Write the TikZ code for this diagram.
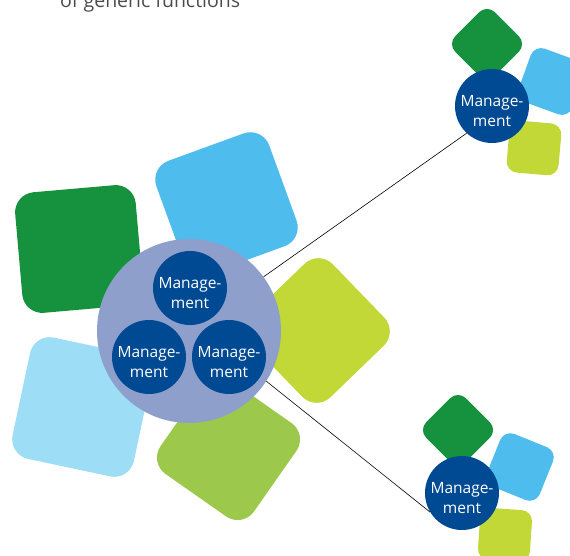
\documentclass[tikz,border=0pt]{standalone}
\usepackage{fontspec}
\setmainfont{Open Sans}
\definecolor{darkgreen}{HTML}{16923E}
\definecolor{skyblue}{HTML}{4EBDED}
\definecolor{paleblue}{HTML}{9DDDF6}
\definecolor{limegreen}{HTML}{C2D836}
\definecolor{olivegreen}{HTML}{9CC94B}
\definecolor{lavender}{HTML}{8F9FCB}
\definecolor{navy}{HTML}{004A93}
\tikzset{
  petal/.style={rectangle, rounded corners=20pt, inner sep=0pt, minimum size=#1},
  leaf/.style={rectangle, rounded corners=11pt, inner sep=0pt, minimum size=#1},
  mglabel/.style={inner sep=0pt, text=white, align=center, yshift=-5pt,
    font=\fontsize{15.5}{20}\selectfont},
  mgmt/.style={circle, fill=navy, inner sep=0pt, minimum size=74pt,
    label={[mglabel]center:#1}},
}
\begin{document}
\begin{tikzpicture}[x=1pt,y=-1pt]
    \useasboundingbox (0,0) rectangle (570,556);

    % Caption cut off at the top
    \node[anchor=base west, inner sep=0pt, text=black!70, font=\fontsize{19.5}{23}\selectfont] (caption) at (60,7.5) {of generic functions};

    % Petals of the main flower
    \node[petal=121pt, fill=darkgreen, rotate=5] (pDG) at (79,249) {};
    \node[petal=120pt, fill=skyblue, rotate=20] (pSB) at (226.5,203.5) {};
    \node[petal=114pt, fill=limegreen, rotate=44] (pLG) at (317.5,330.5) {};
    \node[petal=114pt, fill=olivegreen, rotate=-35] (pOG) at (228.5,448.5) {};
    \node[petal=124pt, fill=paleblue, rotate=-12] (pPB) at (82,407) {};

    % Main circle with three management units
    \node[circle, fill=lavender, inner sep=0pt, minimum size=184pt] (hub) at (189,331) {};
    \node[mgmt={Manage-\\ment}] (mTop) at (190,288) {};
    \node[mgmt={Manage-\\ment}] (mLeft) at (149,357) {};
    \node[mgmt={Manage-\\ment}] (mRight) at (229,357) {};

    % Upper right flower
    \node[leaf=56pt, fill=darkgreen, rotate=45] (uDG) at (487,44) {};
    \node[leaf=57pt, fill=skyblue, rotate=-20] (uSB) at (551.5,81.5) {};
    \node[leaf=52pt, fill=limegreen, rotate=-5] (uLG) at (534,148) {};
    \node[mgmt={Manage-\\ment}] (mUpper) at (492,106) {};

    % Lower right flower
    \node[leaf=56pt, fill=darkgreen, rotate=45] (lDG) at (458,430) {};
    \node[leaf=57pt, fill=skyblue, rotate=-22] (lSB) at (520,467) {};
    \node[leaf=52pt, fill=limegreen, rotate=-4] (lLG) at (505,535) {};
    \node[mgmt={Manage-\\ment}] (mLower) at (462,493) {};

    % Connections
    \draw[line width=0.6pt] (hub.36) -- (mUpper.-133);
    \draw[line width=0.6pt] (hub.-33) -- (mLower.211);
\end{tikzpicture}
\end{document}
